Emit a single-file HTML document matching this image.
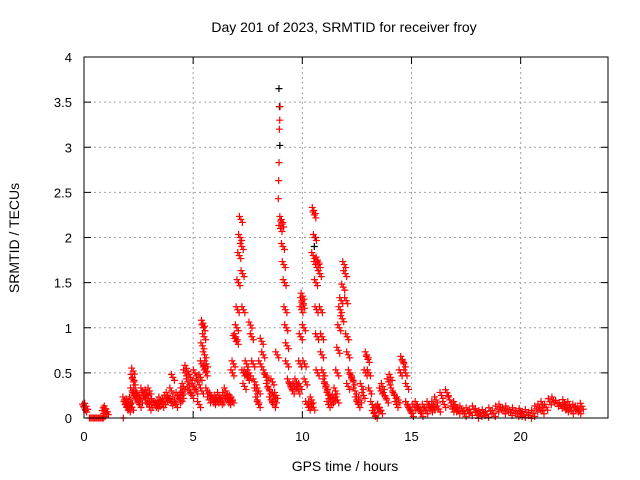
<!DOCTYPE html>
<html><head><meta charset="utf-8"><style>
body{margin:0;background:#fff}
svg{display:block;font-family:"Liberation Sans",sans-serif}
</style></head><body>
<svg id="chart" width="640" height="480" viewBox="0 0 640 480">
<text x="344" y="32" font-size="14" text-anchor="middle">Day 201 of 2023, SRMTID for receiver froy</text>
<text x="345" y="471" font-size="14" text-anchor="middle">GPS time / hours</text>
<text transform="translate(19,238) rotate(-90)" font-size="14" text-anchor="middle">SRMTID / TECUs</text>
<g id="grid"></g>
<g id="ticks"></g>
<g id="black"></g>
<g id="red"></g>
<rect x="84" y="57" width="524" height="361" fill="none" stroke="#000" stroke-width="1"/>
</svg>
<script>
const xTicks=[0,5,10,15,20];
const yTicks=[0,0.5,1,1.5,2,2.5,3,3.5,4];
const yTickLabels=["0","0.5","1","1.5","2","2.5","3","3.5","4"];
const segStart=[0,0.25,0.9,1.8,1.85,2.2,2.35,3.0,4.0,4.5,5.4,5.65,6.8,7.0,7.3,7.5,8.0,8.7,8.9,9.0,9.3,9.9,10.15,10.5,10.7,10.9,11.2,11.6,12.1,12.9,13.2,13.6,14.5,14.8,16.0,17.0,18.0,20.0,21.0,22.0];
const segEnd=[0.1,0.9,1.05,1.8,2.2,2.3,3.0,4.0,4.5,5.4,5.6,6.8,7.0,7.3,7.5,8.0,8.7,8.85,8.98,9.3,9.9,10.1,10.5,10.7,10.9,11.2,11.6,12.1,12.8,13.1,13.6,14.4,14.8,16.0,17.0,18.0,20.0,21.0,22.0,22.8];
const segValues=[
[0.12,0.1,0.13],
[0,0,0,0,0,0,0,0,0,0,0,0],
[0.05,0.08,0.1,0.07],
[0],
[0.2,0.15,0.12,0.18,0.1,0.15,0.2,0.12],
[0.3,0.45,0.52,0.4,0.25],
[0.3,0.2,0.25,0.15,0.2,0.3,0.25,0.2,0.28,0.22,0.3],
[0.12,0.15,0.18,0.15,0.14,0.16,0.2,0.15,0.18,0.22,0.25,0.2,0.17],
[0.3,0.45,0.2,0.15,0.25,0.2,0.22,0.3],
[0.25,0.35,0.5,0.55,0.4,0.3,0.45,0.25,0.35,0.5,0.3,0.4,0.15,0.45,0.3],
[0.6,0.8,1.05,1.0,0.9,0.7,0.55,0.5,0.6],
[0.3,0.2,0.25,0.2,0.18,0.22,0.2,0.25,0.18,0.2,0.25,0.3,0.2,0.18,0.22,0.2],
[0.5,0.6,0.88,0.9,0.85],
[1.0,1.2,1.5,1.8,2.0,2.2,1.9,1.6,1.2],
[0.5,0.35,0.5,0.6,0.45],
[0.45,0.5,1.03,0.9,0.6,0.4,0.3,0.2,0.15],
[0.3,0.6,0.85,0.7,0.5,0.45,0.35,0.3,0.2,0.4,0.25],
[0.15,0.2,0.25,0.7],
[2.43,2.63,2.83,3.2,3.3,3.45],
[2.1,2.2,2.15,1.9,1.7,1.5,1.2,1.0,0.8],
[0.6,0.4,0.35,0.3,0.35,0.4,0.3,0.35],
[0.6,0.9,1.2,1.3,1.35,1.25,1.0,0.6],
[0.4,0.15,0.12,0.15,0.2,0.12],
[1.8,2.3,2.25,2.0,1.7,1.5,1.2,0.9,0.5],
[1.75,1.7,1.6,1.2,0.9],
[0.7,0.5,0.4,0.35,0.3,0.25],
[0.15,0.18,0.2,0.22,0.3,0.2],
[0.5,0.75,1.0,1.2,1.3,1.1,1.45,1.7,1.6,1.3,0.9,0.7],
[0.35,0.5,0.45,0.4,0.3,0.2,0.15,0.2,0.35,0.25],
[0.5,0.7,0.65,0.5,0.3],
[0.15,0.05,0.03,0.1,0.12,0.08],
[0.3,0.35,0.25,0.2,0.4,0.45,0.3,0.25,0.15,0.2],
[0.5,0.65,0.6,0.5,0.35],
[0.15,0.1,0.05,0.12,0.15,0.1,0.05,0.12,0.08,0.15,0.1,0.12],
[0.15,0.2,0.1,0.25,0.15,0.28,0.2,0.1,0.15],
[0.1,0.08,0.1,0.05,0.08,0.06,0.1,0.07],
[0.03,0.05,0.06,0.04,0.08,0.05,0.1,0.12,0.08,0.1,0.06,0.08,0.05,0.07],
[0.05,0.04,0.06,0.03,0.05,0.1,0.12,0.08],
[0.15,0.12,0.18,0.2,0.16,0.14,0.17],
[0.12,0.1,0.15,0.08,0.12,0.1,0.08,0.13]
];
const blackTimes=[8.93,8.95,8.97,10.6,10.55];
const blackValues=[3.65,3.45,3.02,2.0,1.9];

const NS="http://www.w3.org/2000/svg";
function xs(t){return 84+t/24*524;}
function ys(v){return 418-v/4*361;}
function mk(tag,attrs,parent){const e=document.createElementNS(NS,tag);for(const k in attrs)e.setAttribute(k,attrs[k]);parent.appendChild(e);return e;}
const grid=document.getElementById('grid'),ticks=document.getElementById('ticks');
xTicks.forEach(t=>{
  const x=xs(t);
  if(t>0){const l=mk('line',{x1:x,x2:x,y1:57,y2:418,stroke:'#a0a0a0','stroke-dasharray':'2,3'},grid);
  
  }
  mk('line',{x1:x,x2:x,y1:418,y2:411,stroke:'#000'},ticks);
  mk('line',{x1:x,x2:x,y1:57,y2:64,stroke:'#000'},ticks);
  const tx=mk('text',{x:x,y:441,'font-size':13,'text-anchor':'middle'},ticks);
  tx.textContent=t;
  
  
});
yTicks.forEach((v,i)=>{
  const y=ys(v);
  if(v>0&&v<4){const l=mk('line',{x1:84,x2:608,y1:y,y2:y,stroke:'#a0a0a0','stroke-dasharray':'2,3'},grid);
  
  }
  mk('line',{x1:84,x2:91,y1:y,y2:y,stroke:'#000'},ticks);
  mk('line',{x1:608,x2:601,y1:y,y2:y,stroke:'#000'},ticks);
  const tx=mk('text',{x:72,y:y+5,'font-size':13,'text-anchor':'end'},ticks);
  tx.textContent=yTickLabels[i];
  
  
});
function plus(g,t,v,c,dense){
  const x=xs(t),y=ys(v);
  let d=`M${x-3.5},${y}h7M${x},${y-3.5}v7`;
  if(dense){d+=`M${x-5},${y-3}h7M${x-1.5},${y-6.5}v7M${x-2},${y+3}h7M${x+1.5},${y-0.5}v7`;}
  const p=mk('path',{d:d,stroke:c,'stroke-width':1.2,fill:'none'},g);
  
  
}
const bg=document.getElementById('black');
blackTimes.forEach((t,i)=>plus(bg,t,blackValues[i],'#000',false));
const rg=document.getElementById('red');
segValues.forEach((vals,s)=>{
  const n=vals.length,a=segStart[s],b=segEnd[s];
  vals.forEach((v,i)=>{
    const t=n>1?a+(b-a)*i/(n-1):a;
    plus(rg,t,v,'#f00',v<2.4&&v>0);
  });
});
</script>
</body></html>
